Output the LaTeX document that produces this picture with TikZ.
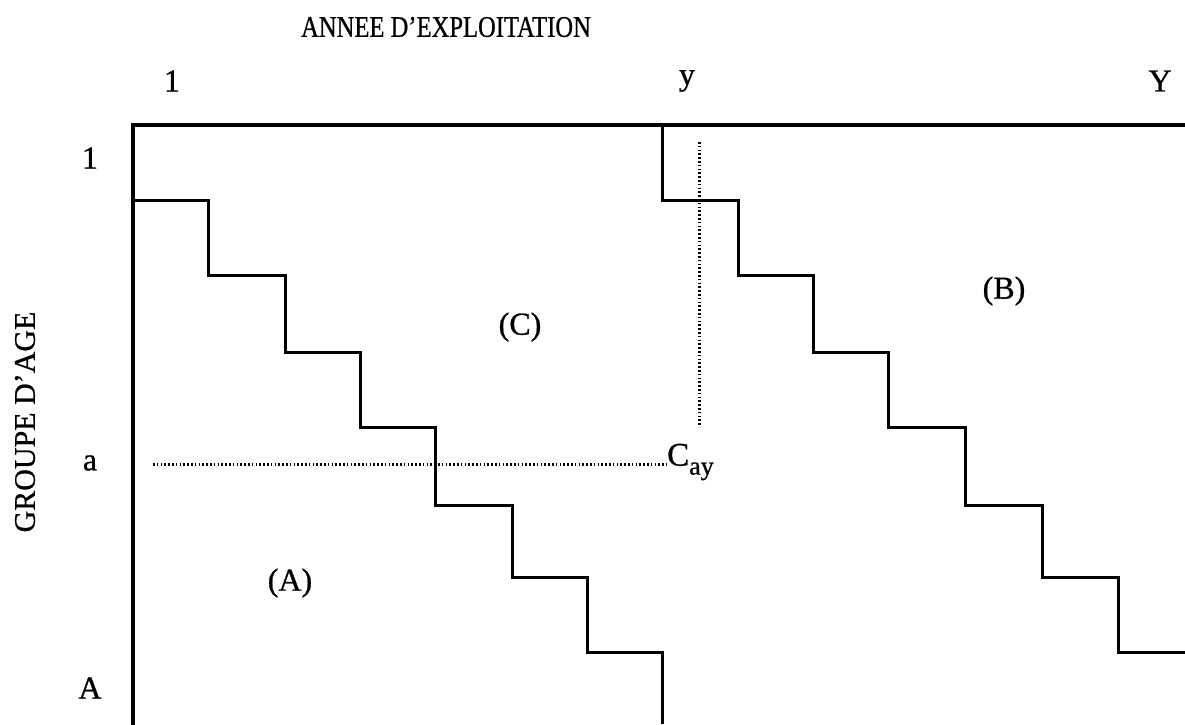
\documentclass[tikz,border=0pt]{standalone}
\usepackage{fontspec}
\setmainfont{Liberation Serif}
\newfontfamily\scanfont[FakeBold=0.8]{Liberation Serif}
\begin{document}
\begin{tikzpicture}[x=1pt,y=-1pt,
  frame/.style={line width=3.2pt,line cap=rect},
  stair/.style={line width=3pt,line join=miter},
  guide/.style={line width=3pt,dash pattern=on 1.6pt off 2.2pt},
  lbl/.style={inner sep=0pt,font=\scanfont\fontsize{32}{34}\selectfont},
  ttl/.style={inner sep=0pt,font=\scanfont\fontsize{30}{32}\selectfont}]
\useasboundingbox (0,0) rectangle (1185,724);
% frame
\draw[frame] (1185,125) -- (133,125) -- (133,724);
% staircase (A)/(C) boundary
\draw[stair] (133,200) -- (208,200) -- (208,275) -- (285,275) -- (285,352)
  -- (360,352) -- (360,427) -- (435,427) -- (435,505) -- (512,505)
  -- (512,577) -- (587,577) -- (587,652) -- (662,652) -- (662,724);
% staircase (C)/(B) boundary
\draw[stair] (662,125) -- (662,200) -- (738,200) -- (738,275) -- (813,275) -- (813,352)
  -- (888,352) -- (888,427) -- (965,427) -- (965,505) -- (1042,505)
  -- (1042,577) -- (1118,577) -- (1118,652) -- (1185,652);
% labels
\node[ttl] (title) at (446,27) {\scalebox{0.82}[1]{ANNEE D’EXPLOITATION}};
\node[lbl] (x1) at (172,81) {1};
\node[lbl] (xy) at (687,81) {y};
\node[lbl] (xY) at (1160,81) {Y};
\node[lbl] (y1) at (90,158) {1};
\node[lbl] (ya) at (90,463) {a};
\node[lbl] (yA) at (90,688) {A};
\node[ttl,rotate=90] (ylab) at (25,422) {GROUPE D’AGE};
\node[lbl] (rC) at (520,327) {(C)};
\node[lbl] (rA) at (290,583) {(A)};
\node[lbl] (rB) at (1004,291) {(B)};
\node[inner sep=0pt,anchor=west] (cay) at (667,462)
  {\scanfont\fontsize{33}{35}\selectfont C\raisebox{-9pt}{\fontsize{26}{28}\selectfont ay}};
\coordinate (hstart) at (153,464);
\coordinate (vtop) at (699,142);
\coordinate (vbot) at (699,427);
\draw[guide] (hstart) -- (cay.west |- hstart);
\draw[guide] (vtop) -- (vbot);
\end{tikzpicture}
\end{document}
